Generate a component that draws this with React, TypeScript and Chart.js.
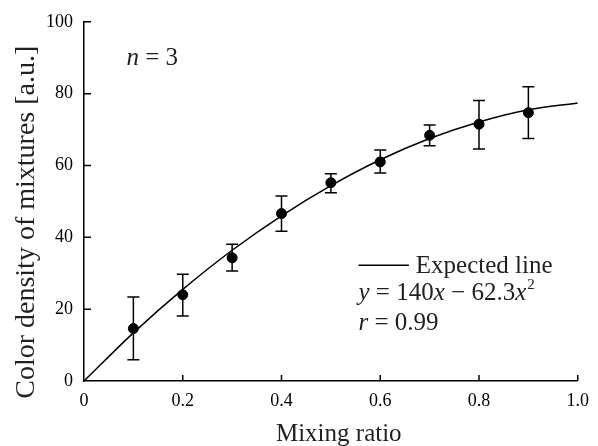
import React, { useEffect, useRef } from "react";
import { Chart, registerables } from "chart.js";

Chart.register(...registerables);

// ---- data ----
const mixingRatios = [0.1, 0.2, 0.3, 0.4, 0.5, 0.6, 0.7, 0.8, 0.9];
const meanDensity = [14.6, 24.0, 34.3, 46.6, 55.2, 61.0, 68.4, 71.5, 74.7];
const upperError = [23.4, 29.7, 38.1, 51.5, 57.7, 64.3, 71.3, 78.1, 81.9];
const lowerError = [5.9, 18.1, 30.6, 41.7, 52.4, 57.9, 65.5, 64.6, 67.5];

const curveX = [0, 0.1, 0.2, 0.3, 0.4, 0.5, 0.6, 0.7, 0.8, 0.9, 1.0];
const curveY = [0, 13.4, 25.5, 36.4, 46.0, 54.4, 61.6, 67.5, 72.1, 75.5, 77.4];

const xTickValues = [0, 0.2, 0.4, 0.6, 0.8, 1.0];
const xTickLabels = ["0", "0.2", "0.4", "0.6", "0.8", "1.0"];
const yTickValues = [0, 20, 40, 60, 80, 100];
const yTickLabels = ["0", "20", "40", "60", "80", "100"];

const xTitle = "Mixing ratio";
const yTitle = "Color density of mixtures [a.u.]";
const legendLabel = "Expected line";
const sampleNote = "n = 3";
const rNote = "r = 0.99";

const SERIF = '"Liberation Serif", "Times New Roman", Times, serif';
const INK = "#000000";
const TEXT = "#231f20";

const overlayPlugin = {
  id: "overlay",
  beforeDatasetsDraw(chart: any) {
    const { ctx, scales } = chart;
    const xs = scales.x;
    const ys = scales.y;
    ctx.save();
    ctx.strokeStyle = INK;
    ctx.lineWidth = 1.5;
    const cap = 6;
    mixingRatios.forEach((mx, i) => {
      const px = xs.getPixelForValue(mx);
      const top = ys.getPixelForValue(upperError[i]);
      const bot = ys.getPixelForValue(lowerError[i]);
      ctx.beginPath();
      ctx.moveTo(px, top);
      ctx.lineTo(px, bot);
      ctx.moveTo(px - cap, top);
      ctx.lineTo(px + cap, top);
      ctx.moveTo(px - cap, bot);
      ctx.lineTo(px + cap, bot);
      ctx.stroke();
    });
    ctx.restore();
  },
  afterDraw(chart: any) {
    const { ctx, scales, chartArea } = chart;
    const xs = scales.x;
    const ys = scales.y;
    ctx.save();
    // inward tick marks
    ctx.strokeStyle = INK;
    ctx.lineWidth = 1.5;
    ctx.beginPath();
    xTickValues.forEach((v) => {
      if (v === 0) return;
      const px = xs.getPixelForValue(v);
      ctx.moveTo(px, chartArea.bottom);
      ctx.lineTo(px, chartArea.bottom - 6);
    });
    yTickValues.forEach((v) => {
      if (v === 0) return;
      const py = ys.getPixelForValue(v);
      ctx.moveTo(chartArea.left, py);
      ctx.lineTo(chartArea.left + 7, py);
    });
    ctx.stroke();

    ctx.fillStyle = TEXT;
    ctx.textBaseline = "alphabetic";

    // axis titles
    ctx.font = `25px ${SERIF}`;
    ctx.textAlign = "center";
    ctx.fillText(xTitle, xs.getPixelForValue(0.516), chart.height - 5);

    ctx.save();
    ctx.translate(34, ys.getPixelForValue(44.2));
    ctx.rotate(-Math.PI / 2);
    ctx.font = `28px ${SERIF}`;
    ctx.fillText(yTitle, 0, 0);
    ctx.restore();

    ctx.textAlign = "left";

    const drawParts = (parts: { t: string; it?: boolean; sup?: boolean }[], x: number, y: number) => {
      let cx = x;
      parts.forEach((p) => {
        if (p.sup) {
          ctx.font = `15px ${SERIF}`;
          ctx.fillText(p.t, cx + 1, y - 11);
          cx += ctx.measureText(p.t).width + 1;
        } else {
          ctx.font = `${p.it ? "italic " : ""}25px ${SERIF}`;
          ctx.fillText(p.t, cx, y);
          cx += ctx.measureText(p.t).width;
        }
      });
    };

    // n = 3
    drawParts(
      [
        { t: sampleNote.charAt(0), it: true },
        { t: sampleNote.slice(1) },
      ],
      xs.getPixelForValue(0.086),
      ys.getPixelForValue(88)
    );

    // legend line
    const ly = ys.getPixelForValue(32.2);
    ctx.beginPath();
    ctx.lineWidth = 1.5;
    ctx.moveTo(xs.getPixelForValue(0.556), ly);
    ctx.lineTo(xs.getPixelForValue(0.658), ly);
    ctx.stroke();
    ctx.font = `25px ${SERIF}`;
    ctx.fillText(legendLabel, xs.getPixelForValue(0.672), ys.getPixelForValue(30));

    // equation
    drawParts(
      [
        { t: "y", it: true },
        { t: " = 140" },
        { t: "x", it: true },
        { t: " \u2212 62.3" },
        { t: "x", it: true },
        { t: "2", sup: true },
      ],
      xs.getPixelForValue(0.556),
      ys.getPixelForValue(22.5)
    );

    drawParts(
      [
        { t: rNote.charAt(0), it: true },
        { t: rNote.slice(1) },
      ],
      xs.getPixelForValue(0.556),
      ys.getPixelForValue(14.2)
    );

    ctx.restore();
  },
};

export default function App() {
  const canvasRef = useRef<HTMLCanvasElement | null>(null);

  useEffect(() => {
    const canvas = canvasRef.current;
    if (!canvas) return;
    const chart = new Chart(canvas, {
      type: "scatter",
      data: {
        datasets: [
          {
            label: legendLabel,
            type: "line",
            data: curveX.map((x, i) => ({ x, y: curveY[i] })),
            borderColor: INK,
            borderWidth: 1.5,
            pointRadius: 0,
            fill: false,
            cubicInterpolationMode: "monotone",
            order: 2,
          } as any,
          {
            label: "Measured",
            data: mixingRatios.map((x, i) => ({ x, y: meanDensity[i] })),
            backgroundColor: INK,
            borderColor: INK,
            pointRadius: 5,
            pointHoverRadius: 5,
            order: 1,
          },
        ],
      },
      options: {
        animation: false,
        responsive: true,
        maintainAspectRatio: false,
        events: [],
        layout: { padding: { left: 0, right: 14, top: 21, bottom: 0 } },
        plugins: {
          legend: { display: false },
          tooltip: { enabled: false },
          title: { display: false },
        },
        scales: {
          x: {
            type: "linear",
            min: 0,
            max: 1,
            afterBuildTicks: (scale: any) => {
              scale.ticks = xTickValues.map((v) => ({ value: v }));
            },
            afterFit: (scale: any) => {
              scale.height = 65;
            },
            grid: { display: false, drawTicks: false },
            border: { display: true, color: INK, width: 1.5 },
            ticks: {
              color: INK,
              padding: 9,
              maxRotation: 0,
              font: { family: SERIF, size: 18 },
              callback: (v: any) => {
                const i = xTickValues.indexOf(Number(v));
                return i >= 0 ? xTickLabels[i] : "";
              },
            },
          },
          y: {
            type: "linear",
            min: 0,
            max: 100,
            afterBuildTicks: (scale: any) => {
              scale.ticks = yTickValues.map((v) => ({ value: v }));
            },
            afterFit: (scale: any) => {
              scale.width = 84;
            },
            grid: { display: false, drawTicks: false },
            border: { display: true, color: INK, width: 1.5 },
            ticks: {
              color: INK,
              padding: 11,
              font: { family: SERIF, size: 18 },
              callback: (v: any) => {
                const i = yTickValues.indexOf(Number(v));
                return i >= 0 ? yTickLabels[i] : "";
              },
            },
          },
        },
      },
      plugins: [overlayPlugin],
    });
    return () => chart.destroy();
  }, []);

  return (
    <div
      style={{
        position: "absolute",
        left: 0,
        top: 0,
        width: 598,
        height: 446,
        background: "#ffffff",
      }}
    >
      <canvas ref={canvasRef} />
    </div>
  );
}
